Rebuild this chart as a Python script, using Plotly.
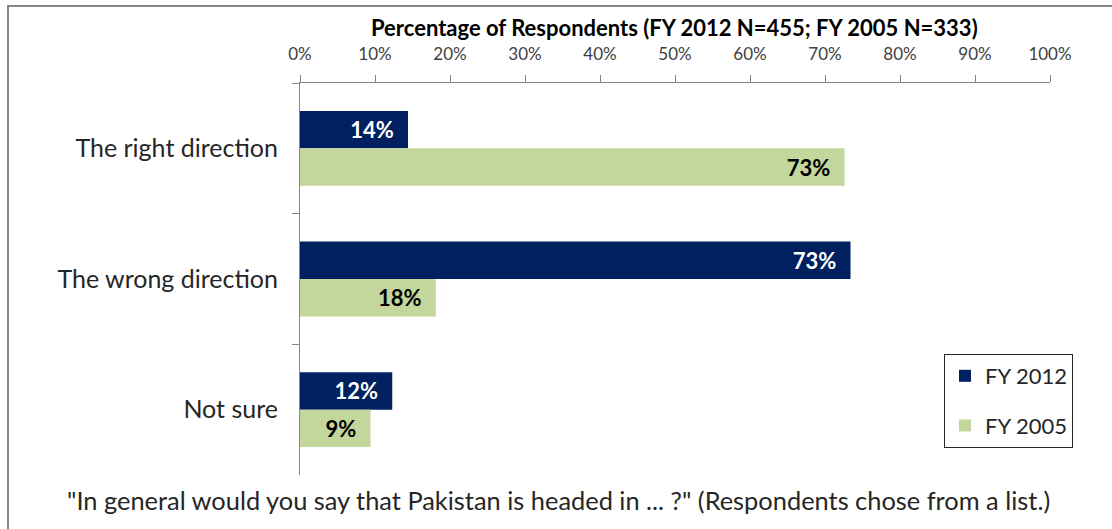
import plotly.graph_objects as go

categories = ["The right direction", "The wrong direction", "Not sure"]
fy2012 = [14.4, 73.4, 12.3]
fy2005 = [72.6, 18.1, 9.4]
series_names = ["FY 2012", "FY 2005"]
tick_vals = [0, 10, 20, 30, 40, 50, 60, 70, 80, 90, 100]
tick_text = [f"{v}%" for v in tick_vals]
title_text = "Percentage of Respondents (FY 2012 N=455; FY 2005 N=333)"
footer_text = '"In general would you say that Pakistan is headed in ... ?" (Respondents chose from a list.)'

FONT = "Lato, 'Open Sans', sans-serif"
W, H = 1112, 529
L, R, T, B = 300, 62, 83, 54
pw, ph = W - L - R, H - T - B

def px_x(x):
    return (x - L) / pw

def px_y(y):
    return (H - B - y) / ph

fig = go.Figure()
fig.add_trace(go.Bar(
    y=categories, x=fy2012, name=series_names[0], orientation="h",
    marker=dict(color="#002060", line=dict(width=0)),
    texttemplate="<b>%{x:.0f}%</b>&nbsp;&nbsp;", textposition="inside",
    insidetextanchor="end", textangle=0, constraintext="none",
    textfont=dict(family=FONT, size=22, color="white"),
    legendgroup="a", hoverinfo="skip",
))
fig.add_trace(go.Bar(
    y=categories, x=fy2005, name=series_names[1], orientation="h",
    marker=dict(color="#C3D69B", line=dict(width=0)),
    texttemplate="<b>%{x:.0f}%</b>&nbsp;&nbsp;", textposition="inside",
    insidetextanchor="end", textangle=0, constraintext="none",
    textfont=dict(family=FONT, size=22, color="black"),
    legendgroup="b", hoverinfo="skip",
))

fig.update_layout(
    width=W, height=H,
    margin=dict(l=L, r=R, t=T, b=B, autoexpand=False),
    paper_bgcolor="white", plot_bgcolor="white",
    barmode="group", bargap=0.427, bargroupgap=0,
    font=dict(family=FONT, color="#262626"),
    xaxis=dict(
        side="top", range=[0, 100], tickvals=tick_vals, ticktext=tick_text,
        showgrid=False, zeroline=False, showline=True, linecolor="#868686", linewidth=1,
        ticks="outside", ticklen=7, tickcolor="#868686", ticklabelstandoff=8,
        tickfont=dict(family=FONT, size=17, color="#404040"),
        fixedrange=True,
    ),
    yaxis=dict(
        autorange="reversed", showgrid=False, zeroline=False,
        showline=True, linecolor="#868686", linewidth=1,
        ticks="outside", ticklen=7, tickcolor="#868686", tickson="boundaries",
        ticklabelstandoff=16,
        tickfont=dict(family=FONT, size=25, color="#262626"),
        fixedrange=True,
    ),
    legend=dict(
        x=px_x(944), y=px_y(354), xanchor="left", yanchor="top",
        bordercolor="#262626", borderwidth=1, bgcolor="white",
        font=dict(family=FONT, size=22, color="#262626"),
        tracegroupgap=18, itemwidth=30,
    ),
    showlegend=True,
)

fig.add_annotation(
    text=f"<b>{title_text}</b>", x=px_x(674), y=px_y(28), xref="paper", yref="paper",
    showarrow=False, font=dict(family=FONT, size=22, color="black"),
    xanchor="center", yanchor="middle",
)
fig.add_annotation(
    text=footer_text, x=px_x(558), y=px_y(500), xref="paper", yref="paper",
    showarrow=False, font=dict(family=FONT, size=25.4, color="#262626"),
    xanchor="center", yanchor="middle",
)

fig.add_shape(
    type="rect", xref="paper", yref="paper",
    x0=px_x(8), x1=px_x(1120), y0=px_y(6), y1=px_y(540),
    line=dict(color="#868686", width=2), fillcolor="rgba(0,0,0,0)", layer="below",
)

fig.write_html("out.html", config={"displayModeBar": False},
               post_script="document.body.style.margin='0';document.body.style.overflow='hidden';")
